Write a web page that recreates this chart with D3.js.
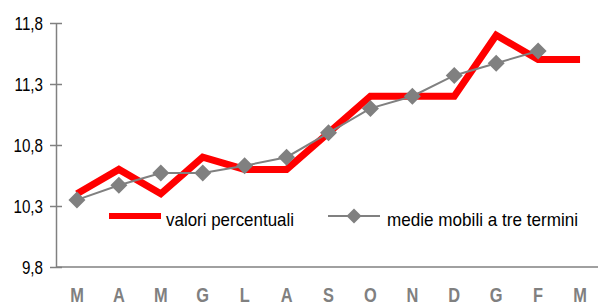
<!DOCTYPE html>
<html><head><meta charset="utf-8">
<script src="https://cdn.jsdelivr.net/npm/d3@7"></script>
<style>
body{margin:0;background:#fff;}
svg{display:block;font-family:"Liberation Sans",Arial,sans-serif;}
</style></head>
<body>
<svg id="chart" width="598" height="306"></svg>
<script>
const months = ["M","A","M","G","L","A","S","O","N","D","G","F","M"];
const valoriPercentuali = [10.4,10.6,10.4,10.7,10.6,10.6,10.9,11.2,11.2,11.2,11.7,11.5,11.5];
const medieMobili = [10.35,10.47,10.57,10.57,10.63,10.7,10.9,11.1,11.2,11.37,11.47,11.57,null];
const yTicks = [9.8,10.3,10.8,11.3,11.8];
const legendLabels = ["valori percentuali","medie mobili a tre termini"];

const svg = d3.select("#chart");
const x = d3.scaleBand().domain(d3.range(months.length)).range([56,601]).padding(0);
const y = d3.scaleLinear().domain([9.8,11.8]).range([267,23]);
const cx = i => x(i) + x.bandwidth()/2;
const gray = "#808080";
const sx = 0.8;

// y axis
const yAxis = svg.append("g").attr("transform","translate(56,0)")
  .call(d3.axisLeft(y).tickValues(yTicks).tickSizeInner(6).tickSizeOuter(0)
        .tickFormat(d => d3.format(".1f")(d).replace(".",",")));
yAxis.select(".domain").attr("stroke",gray).attr("stroke-width",1.5);
yAxis.selectAll(".tick line").attr("stroke",gray).attr("stroke-width",1.5).attr("x1",6);
yAxis.selectAll(".tick text").attr("x",-13/sx).attr("transform",`scale(${sx},1)`)
  .attr("font-size",19).attr("fill","#000").attr("dy","0.35em");

// x axis
const xAxis = svg.append("g").attr("transform","translate(0,267)")
  .call(d3.axisBottom(x).tickSize(0).tickFormat(i => months[i]));
xAxis.select(".domain").attr("stroke",gray).attr("stroke-width",1.5).attr("d","M56,0H598");
xAxis.selectAll(".tick text").attr("y",21).attr("transform","scale(0.82,1)")
  .attr("font-size",20).attr("font-weight","bold").attr("fill",gray);

// red line
svg.append("path").datum(valoriPercentuali)
  .attr("fill","none").attr("stroke","#ff0000").attr("stroke-width",7).attr("stroke-linejoin","miter")
  .attr("d", d3.line().x((d,i)=>cx(i)).y(d=>y(d)));

// gray line
svg.append("path").datum(medieMobili)
  .attr("fill","none").attr("stroke",gray).attr("stroke-width",2)
  .attr("d", d3.line().defined(d=>d!=null).x((d,i)=>cx(i)).y(d=>y(d)));

const diamondPath = "M0,-8.5L8.5,0L0,8.5L-8.5,0Z";
svg.append("g").selectAll("path")
  .data(medieMobili.map((v,i)=>({v,i})).filter(d=>d.v!=null))
  .join("path")
  .attr("transform", d=>`translate(${cx(d.i)},${y(d.v)})`)
  .attr("d", diamondPath).attr("fill",gray);

// legend
const lg = svg.append("g");
lg.append("line").attr("x1",109).attr("x2",161).attr("y1",216).attr("y2",216)
  .attr("stroke","#ff0000").attr("stroke-width",6);
lg.append("text").attr("x",166).attr("y",226).attr("font-size",19).attr("fill","#000")
  .attr("textLength",128).attr("lengthAdjust","spacingAndGlyphs").text(legendLabels[0]);
lg.append("line").attr("x1",328).attr("x2",380).attr("y1",216).attr("y2",216)
  .attr("stroke",gray).attr("stroke-width",2);
lg.append("path").attr("transform","translate(354,216)").attr("d","M0,-7.5L7.5,0L0,7.5L-7.5,0Z").attr("fill",gray);
lg.append("text").attr("x",387).attr("y",226).attr("font-size",19).attr("fill","#000")
  .attr("textLength",191).attr("lengthAdjust","spacingAndGlyphs").text(legendLabels[1]);
</script>
</body></html>
